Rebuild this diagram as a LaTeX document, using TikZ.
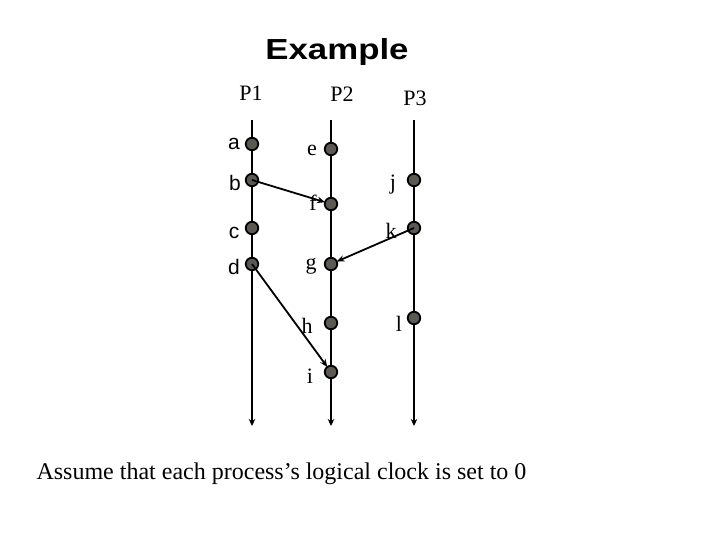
\documentclass[tikz,border=0pt]{standalone}
\usepackage{fontspec}
\setmainfont{Liberation Serif}
\newfontfamily\arialfont{Liberation Sans}
\usetikzlibrary{arrows.meta}
\definecolor{dotgray}{RGB}{92,88,84}
\tikzset{
  evdot/.style={circle, fill=dotgray, draw=black, line width=1.8pt, minimum size=12.5pt, inner sep=0pt},
  procline/.style={line width=2.4pt, -{Stealth[length=7pt,width=6.5pt]}},
  msg/.style={line width=1.8pt, -{Stealth[length=8pt,width=6.5pt]}, shorten >=-1pt},
  serlab/.style={anchor=base, inner sep=0pt, font=\fontsize{22}{22}\selectfont},
  sanlab/.style={anchor=base, inner sep=0pt, font=\arialfont\fontsize{21}{21}\selectfont},
  plab/.style={anchor=base, inner sep=0pt, font=\fontsize{22}{22}\selectfont}
}
\begin{document}
\begin{tikzpicture}[x=1pt,y=-1pt]
\useasboundingbox (0,0) rectangle (720,540);
% title
\node[anchor=base, inner sep=0pt, xscale=1.2, font=\arialfont\bfseries\fontsize{29}{29}\selectfont] (title) at (337,60) {Example};
\node[plab] (p1) at (251,101) {P1};
\node[plab] (p2) at (342,102) {P2};
\node[plab] (p3) at (415,106) {P3};
% process lines
\coordinate (t1) at (252,120); \coordinate (b1) at (252,426);
\coordinate (t2) at (331,120); \coordinate (b2) at (331,426);
\coordinate (t3) at (414,120); \coordinate (b3) at (414,426);
\draw[procline] (t1) -- (b1);
\draw[procline] (t2) -- (b2);
\draw[procline] (t3) -- (b3);
% events
\node[evdot] (a) at (252,144) {};
\node[evdot] (b) at (252,180) {};
\node[evdot] (c) at (252,228) {};
\node[evdot] (d) at (252,264) {};
\node[evdot] (e) at (331,149) {};
\node[evdot] (f) at (331,204) {};
\node[evdot] (g) at (331,264) {};
\node[evdot] (h) at (331,323) {};
\node[evdot] (i) at (331,372) {};
\node[evdot] (j) at (414,180) {};
\node[evdot] (k) at (414,228) {};
\node[evdot] (l) at (414,318) {};
% messages
\draw[msg] (b.center) -- (f);
\draw[msg] (k.center) -- (g);
\draw[msg] (d.center) -- (i);
% labels
\node[sanlab] (la) at (234,150) {a};
\node[sanlab] (lb) at (235,191) {b};
\node[sanlab] (lc) at (234,238) {c};
\node[sanlab] (ld) at (234,274) {d};
\node[serlab] (le) at (312,156) {e};
\node[serlab] (lf) at (313,211) {f};
\node[serlab] (lg) at (311,269) {g};
\node[serlab] (lh) at (307,333) {h};
\node[serlab] (li) at (310,383) {i};
\node[serlab] (lj) at (393,190) {j};
\node[serlab] (lk) at (391,238) {k};
\node[serlab] (ll) at (399,331) {l};
% bottom note
\node[anchor=base, inner sep=0pt, font=\fontsize{24}{24}\selectfont] (note) at (281.5,479) {Assume that each process’s logical clock is set to 0};
\end{tikzpicture}
\end{document}
